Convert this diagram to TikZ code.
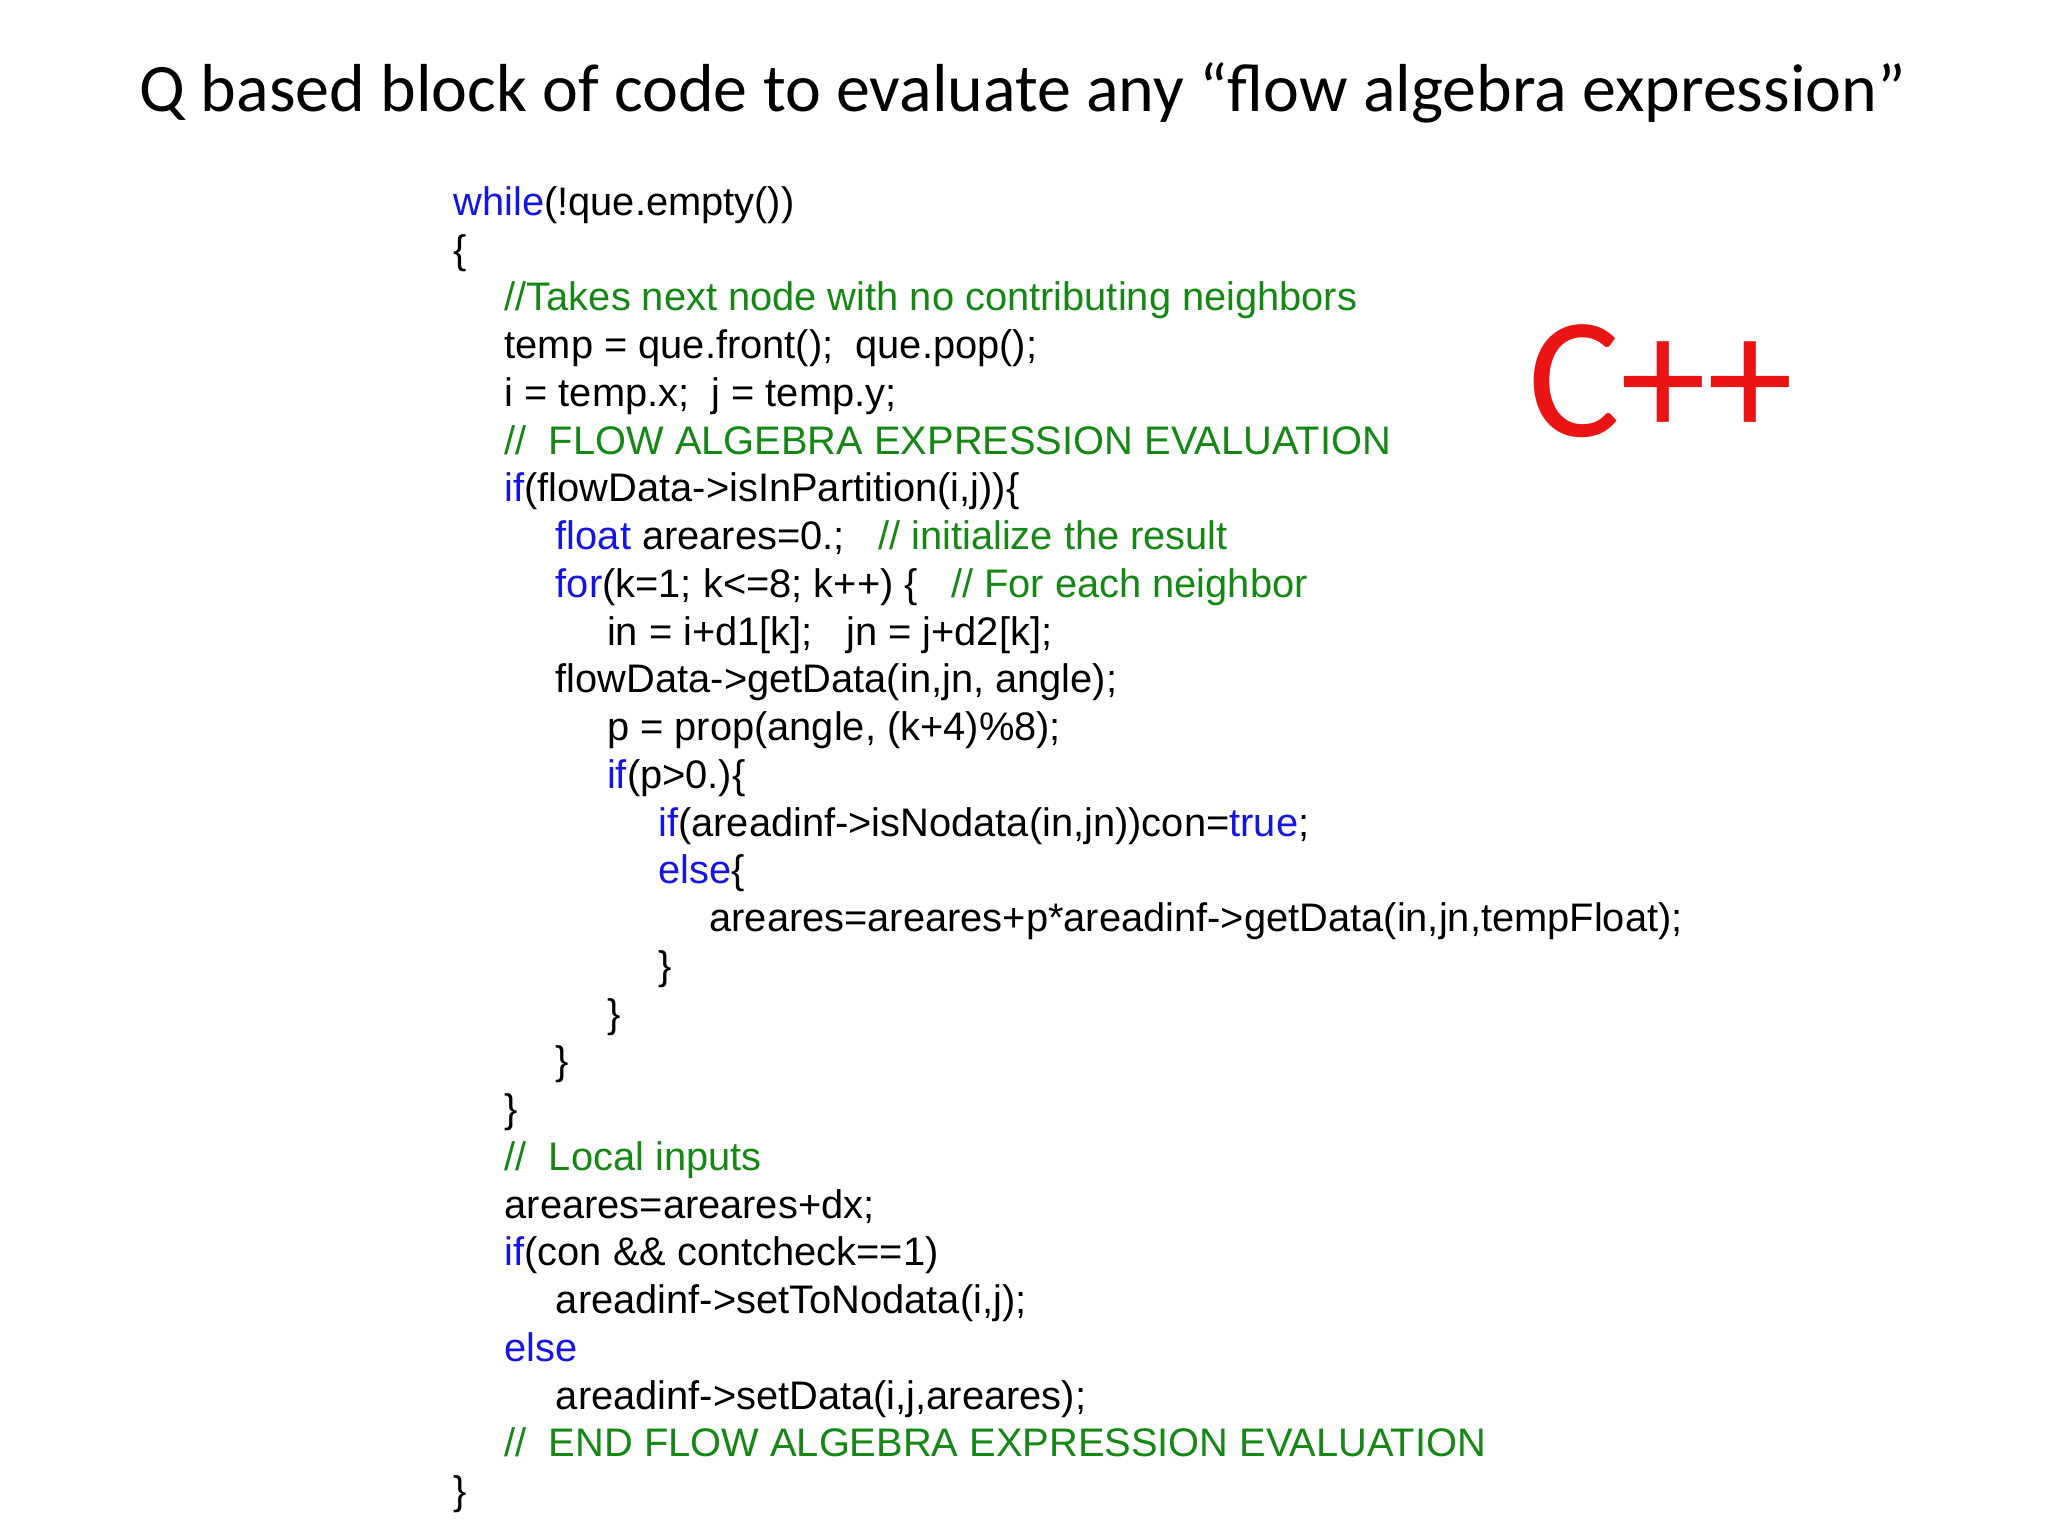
\documentclass[tikz,border=0pt]{standalone}
\usepackage{fontspec}
\setmainfont{Liberation Sans}
\newfontfamily\calib{Carlito}
\definecolor{kw}{RGB}{20,20,230}
\definecolor{cm}{RGB}{20,135,20}
\definecolor{cpp}{RGB}{235,20,20}
\newcommand{\K}[1]{\textcolor{kw}{#1}}
\newcommand{\C}[1]{\textcolor{cm}{#1}}
\begin{document}
\begin{tikzpicture}[x=1pt,y=-1pt,
  code/.style={anchor=base west,inner sep=0pt,font=\fontsize{30.5}{32}\selectfont}]
\useasboundingbox (0,0) rectangle (1568,1176);
\node[anchor=base,inner sep=0pt,font=\calib\fontsize{52}{56}\selectfont] (title) at (783,85) {Q based block of code to evaluate any “flow algebra expression”};
\node[anchor=base west,inner sep=0pt,text=cpp,font=\calib\fontsize{132}{134}\selectfont] (cpp) at (1170,334) {C++};
\def\lh{36.55}
\def\ind{39.2}
\foreach \n/\lv/\t in {
 0/0/{\K{while}(!que.empty())},
 1/0/{\{},
 2/1/{\C{//Takes next node with no contributing neighbors}},
 3/1/{temp = que.front();\ \ que.pop();},
 4/1/{i = temp.x;\ \ j = temp.y;},
 5/1/{\C{//\ \ FLOW ALGEBRA EXPRESSION EVALUATION}},
 6/1/{\K{if}(flowData->isInPartition(i,j))\{},
 7/2/{\K{float} areares=0.;\ \ \ \C{// initialize the result}},
 8/2/{\K{for}(k=1; k<=8; k++) \{\ \ \ \C{// For each neighbor}},
 9/3/{in = i+d1[k];\ \ \ jn = j+d2[k];},
 10/2/{flowData->getData(in,jn, angle);},
 11/3/{p = prop(angle, (k+4)\%8);},
 12/3/{\K{if}(p>0.)\{},
 13/4/{\K{if}(areadinf->isNodata(in,jn))con=\K{true};},
 14/4/{\K{else}\{},
 15/5/{areares=areares+p*areadinf->getData(in,jn,tempFloat);},
 16/4/{\}},
 17/3/{\}},
 18/2/{\}},
 19/1/{\}},
 20/1/{\C{//\ \ Local inputs}},
 21/1/{areares=areares+dx;},
 22/1/{\K{if}(con \&\& contcheck==1)},
 23/2/{areadinf->setToNodata(i,j);},
 24/1/{\K{else}},
 25/2/{areadinf->setData(i,j,areares);},
 26/1/{\C{//\ \ END FLOW ALGEBRA EXPRESSION EVALUATION}},
 27/0/{\}}}
 \node[code] (line\n) at ({347+\lv*\ind},{165+\n*\lh}) {\t};
\end{tikzpicture}
\end{document}
